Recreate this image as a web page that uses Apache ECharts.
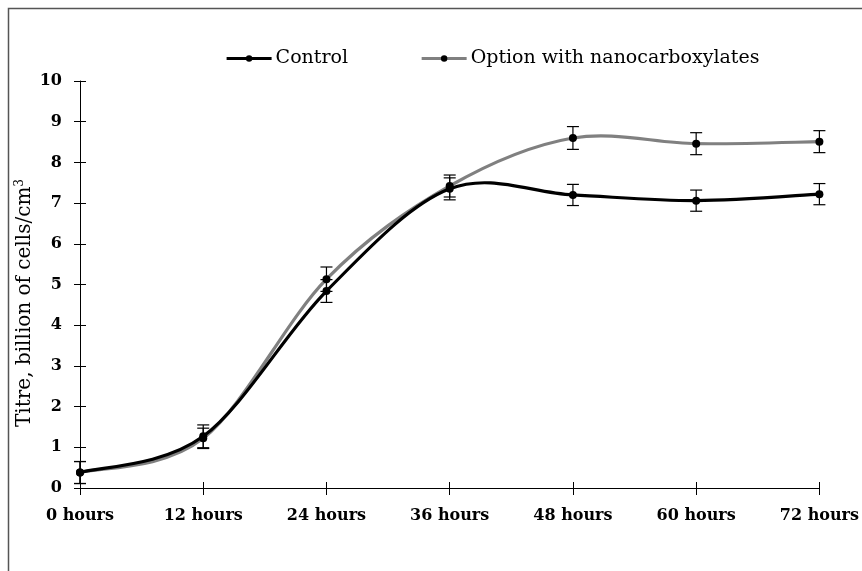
<!DOCTYPE html>
<html>
<head>
<meta charset="utf-8">
<script src="https://cdn.jsdelivr.net/npm/echarts@6/dist/echarts.min.js"></script>
<style>html,body{margin:0;padding:0;background:#fff;}#c{width:862px;height:571px;}</style>
</head>
<body>
<div id="c"></div>
<script>
const categories = ['0 hours','12 hours','24 hours','36 hours','48 hours','60 hours','72 hours'];
const controlValues = [0.38, 1.27, 4.84, 7.35, 7.2, 7.06, 7.22];
const controlErrors = [0.27, 0.28, 0.28, 0.27, 0.26, 0.26, 0.26];
const optionValues = [0.38, 1.22, 5.13, 7.42, 8.6, 8.46, 8.51];
const optionErrors = [0.27, 0.25, 0.3, 0.27, 0.28, 0.27, 0.27];
const yTicks = [0,1,2,3,4,5,6,7,8,9,10];
const seriesNames = ['Control', 'Option with nanocarboxylates'];
const yTitle = 'Titre, billion of cells/cm';

const serif = 'DejaVu Serif';
const chart = echarts.init(document.getElementById('c'));

function errData(vals, errs){
  return vals.map((v,i)=>[i, v - errs[i], v + errs[i]]);
}
function errRender(params, api){
  const x = api.value(0);
  const lo = api.coord([x, api.value(1)]);
  const hi = api.coord([x, api.value(2)]);
  const w = 6;
  const st = {stroke:'#000', lineWidth:1.2};
  return {type:'group', children:[
    {type:'line', shape:{x1:lo[0],y1:lo[1],x2:hi[0],y2:hi[1]}, style:st},
    {type:'line', shape:{x1:lo[0]-w,y1:lo[1],x2:lo[0]+w,y2:lo[1]}, style:st},
    {type:'line', shape:{x1:hi[0]-w,y1:hi[1],x2:hi[0]+w,y2:hi[1]}, style:st}
  ]};
}
// segment data: [i, v(i-1), v(i), v(i+1), v(i+2)] for Catmull-Rom style smoothing
function segData(vals){
  const n = vals.length, out = [];
  for (let i = 0; i < n - 1; i++) {
    out.push([i, vals[Math.max(i-1,0)], vals[i], vals[i+1], vals[Math.min(i+2,n-1)]]);
  }
  return out;
}
function curveRender(color, width){
  return function(params, api){
    const i = api.value(0);
    const n = categories.length;
    const p0 = api.coord([Math.max(i-1,0), api.value(1)]);
    const p1 = api.coord([i, api.value(2)]);
    const p2 = api.coord([i+1, api.value(3)]);
    const p3 = api.coord([Math.min(i+2,n-1), api.value(4)]);
    const k = 1/6;
    return {type:'bezierCurve', shape:{
      x1:p1[0], y1:p1[1], x2:p2[0], y2:p2[1],
      cpx1:p1[0] + (p2[0]-p0[0])*k, cpy1:p1[1] + (p2[1]-p0[1])*k,
      cpx2:p2[0] - (p3[0]-p1[0])*k, cpy2:p2[1] - (p3[1]-p1[1])*k
    }, style:{stroke:color, lineWidth:width, fill:null, lineCap:'round'}};
  };
}

chart.setOption({
  animation:false,
  backgroundColor:'#fff',
  graphic:[
    {type:'rect', shape:{x:8.5,y:8.5,width:900,height:600}, style:{fill:'none', stroke:'#555', lineWidth:1.5}, z:-1},
    {type:'text', x:25, y:303, rotation:Math.PI/2,
     style:{text:'{a|' + yTitle + '}{b|3}', align:'center', verticalAlign:'middle',
       rich:{a:{fontFamily:serif, fontSize:20, fill:'#000'},
             b:{fontFamily:serif, fontSize:12, fill:'#000', verticalAlign:'top', padding:[0,0,10,0]}}}}
  ],
  legend:{
    top:44, left:220,
    itemWidth:45, itemHeight:8, itemGap:72,
    textStyle:{fontFamily:serif, fontSize:19, color:'#000', padding:[0,0,0,-1]},
    data:[
      {name:seriesNames[0], lineStyle:{color:'#000', width:3.2, opacity:1}, itemStyle:{color:'#000'}},
      {name:seriesNames[1], lineStyle:{color:'#808080', width:3.2, opacity:1}, itemStyle:{color:'#000'}}
    ]
  },
  grid:{left:80, right:42, top:81, bottom:83},
  xAxis:[{
    type:'category', data:categories, boundaryGap:false,
    axisLine:{lineStyle:{color:'#000', width:1}},
    axisTick:{show:true, inside:false, length:7, lineStyle:{color:'#000'}},
    axisLabel:{fontFamily:serif, fontWeight:'bold', fontSize:16, color:'#000', margin:20},
    splitLine:{show:false}
  },{
    type:'category', data:categories, boundaryGap:false, position:'bottom', offset:0,
    axisLine:{show:false},
    axisTick:{show:true, inside:true, length:6, lineStyle:{color:'#000'}},
    axisLabel:{show:false}, splitLine:{show:false}
  }],
  yAxis:[{
    type:'value', min:0, max:10, interval:1,
    axisLine:{show:true, lineStyle:{color:'#000', width:1}},
    axisTick:{show:true, length:6, lineStyle:{color:'#000'}},
    axisLabel:{fontFamily:serif, fontWeight:'bold', fontSize:16, color:'#000', margin:18,
      formatter:(v)=> yTicks.includes(v) ? String(v) : ''},
    splitLine:{show:false}
  },{
    type:'value', min:0, max:10, interval:1, position:'left', offset:0,
    axisLine:{show:false},
    axisTick:{show:true, inside:true, length:6, lineStyle:{color:'#000'}},
    axisLabel:{show:false}, splitLine:{show:false}
  }],
  series:[
    {type:'custom', data:segData(optionValues), renderItem:curveRender('#808080', 3.2), z:2, silent:true},
    {type:'custom', data:segData(controlValues), renderItem:curveRender('#000', 3.2), z:3, silent:true},
    {name:seriesNames[0], type:'line', data:controlValues,
     symbol:'circle', symbolSize:8, z:5,
     lineStyle:{color:'#000', width:3.2, opacity:0}, itemStyle:{color:'#000'}},
    {name:seriesNames[1], type:'line', data:optionValues,
     symbol:'circle', symbolSize:8, z:5,
     lineStyle:{color:'#808080', width:3.2, opacity:0}, itemStyle:{color:'#000'}},
    {type:'custom', data:errData(controlValues, controlErrors), renderItem:errRender, z:4, silent:true},
    {type:'custom', data:errData(optionValues, optionErrors), renderItem:errRender, z:4, silent:true}
  ]
});
</script>
</body>
</html>
